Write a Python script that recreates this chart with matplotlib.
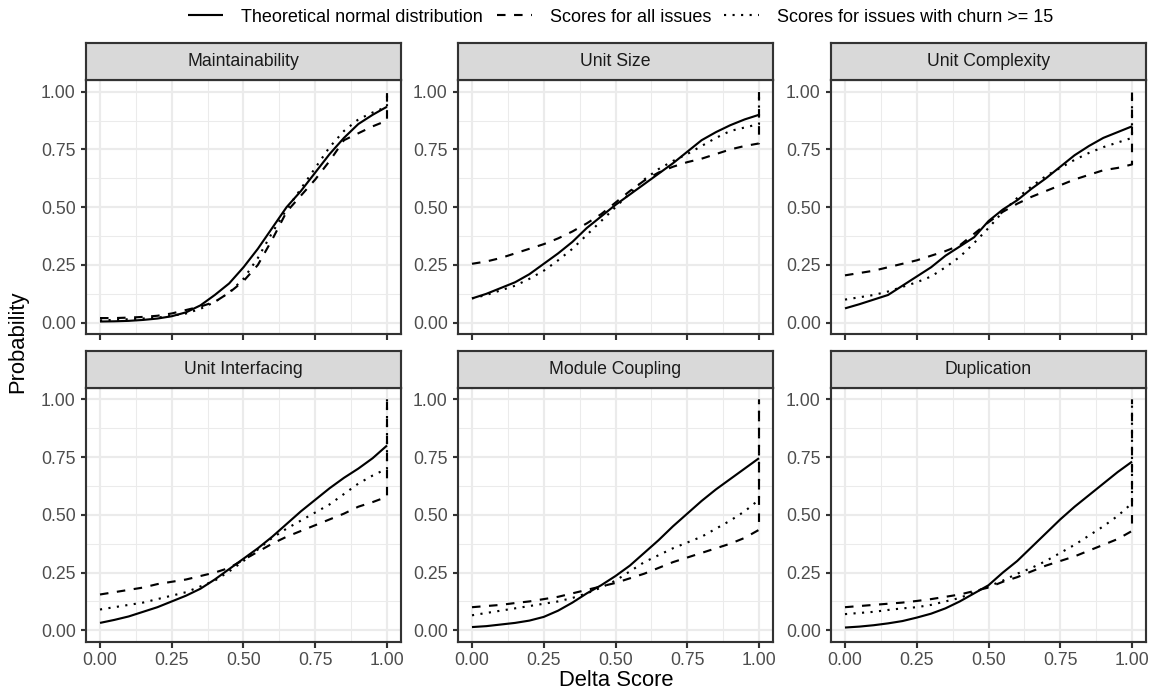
import matplotlib
matplotlib.use("Agg")
import matplotlib.pyplot as plt
from matplotlib.lines import Line2D

plt.rcParams['font.family'] = ['Liberation Sans', 'DejaVu Sans']

# delta score grid (the empirical curves end with the jump to 1 at delta = 1)
delta = [0, 0.05, 0.1, 0.15, 0.2, 0.25, 0.3, 0.35, 0.4, 0.45, 0.5,
         0.55, 0.6, 0.65, 0.7, 0.75, 0.8, 0.85, 0.9, 0.95, 1.0]
delta_ecdf = delta + [1.0]

panels = ["Maintainability", "Unit Size", "Unit Complexity",
          "Unit Interfacing", "Module Coupling", "Duplication"]

legend_labels = ["Theoretical normal distribution", "Scores for all issues",
                 "Scores for issues with churn >= 15"]

# Maintainability
maint_norm = [0.005, 0.006, 0.008, 0.012, 0.018, 0.028, 0.045, 0.075, 0.12, 0.17, 0.24,
              0.32, 0.41, 0.50, 0.57, 0.65, 0.73, 0.80, 0.86, 0.90, 0.935]
maint_all = [0.02, 0.02, 0.022, 0.025, 0.03, 0.04, 0.055, 0.07, 0.09, 0.13, 0.18,
             0.25, 0.36, 0.48, 0.55, 0.62, 0.70, 0.79, 0.82, 0.85, 0.875, 1.0]
maint_churn = [0.01, 0.012, 0.015, 0.018, 0.022, 0.03, 0.04, 0.06, 0.09, 0.13, 0.19,
               0.28, 0.39, 0.49, 0.58, 0.67, 0.76, 0.83, 0.88, 0.91, 0.935, 1.0]

# Unit Size
size_norm = [0.105, 0.125, 0.15, 0.175, 0.21, 0.255, 0.30, 0.35, 0.41, 0.46, 0.51,
             0.555, 0.60, 0.645, 0.69, 0.74, 0.79, 0.825, 0.855, 0.88, 0.90]
size_all = [0.255, 0.265, 0.28, 0.30, 0.32, 0.34, 0.365, 0.395, 0.43, 0.47, 0.52,
            0.57, 0.615, 0.65, 0.675, 0.695, 0.71, 0.73, 0.75, 0.765, 0.776, 1.0]
size_churn = [0.105, 0.12, 0.14, 0.16, 0.19, 0.225, 0.27, 0.32, 0.38, 0.44, 0.50,
              0.56, 0.62, 0.665, 0.70, 0.73, 0.765, 0.80, 0.83, 0.845, 0.86, 1.0]

# Unit Complexity
compl_norm = [0.062, 0.08, 0.10, 0.12, 0.16, 0.20, 0.24, 0.29, 0.33, 0.37, 0.44,
              0.49, 0.53, 0.58, 0.625, 0.675, 0.725, 0.765, 0.80, 0.825, 0.85]
compl_all = [0.205, 0.215, 0.225, 0.24, 0.255, 0.27, 0.29, 0.31, 0.335, 0.385, 0.435,
             0.48, 0.515, 0.545, 0.57, 0.595, 0.62, 0.64, 0.66, 0.67, 0.685, 1.0]
compl_churn = [0.10, 0.11, 0.12, 0.135, 0.155, 0.175, 0.20, 0.24, 0.285, 0.345, 0.41,
               0.48, 0.54, 0.59, 0.635, 0.67, 0.705, 0.735, 0.76, 0.78, 0.80, 1.0]

# Unit Interfacing
intf_norm = [0.032, 0.045, 0.06, 0.08, 0.10, 0.125, 0.15, 0.18, 0.22, 0.265, 0.31,
             0.355, 0.405, 0.46, 0.515, 0.565, 0.615, 0.66, 0.70, 0.745, 0.80]
intf_all = [0.155, 0.165, 0.175, 0.185, 0.20, 0.21, 0.22, 0.235, 0.25, 0.27, 0.305,
            0.34, 0.375, 0.405, 0.43, 0.455, 0.48, 0.505, 0.535, 0.555, 0.578, 1.0]
intf_churn = [0.09, 0.10, 0.11, 0.12, 0.135, 0.15, 0.165, 0.19, 0.215, 0.255, 0.30,
              0.35, 0.40, 0.44, 0.475, 0.51, 0.545, 0.59, 0.635, 0.67, 0.70, 1.0]

# Module Coupling
coup_norm = [0.014, 0.018, 0.025, 0.032, 0.042, 0.058, 0.085, 0.12, 0.16, 0.195, 0.235,
             0.28, 0.335, 0.39, 0.45, 0.505, 0.56, 0.61, 0.655, 0.70, 0.745]
coup_all = [0.10, 0.105, 0.11, 0.118, 0.125, 0.135, 0.145, 0.16, 0.175, 0.19, 0.205,
            0.225, 0.245, 0.27, 0.295, 0.315, 0.335, 0.355, 0.375, 0.40, 0.435, 1.0]
coup_churn = [0.065, 0.075, 0.085, 0.095, 0.105, 0.115, 0.125, 0.14, 0.16, 0.185, 0.215,
              0.255, 0.295, 0.325, 0.355, 0.38, 0.405, 0.44, 0.475, 0.515, 0.565, 1.0]

# Duplication
dup_norm = [0.012, 0.016, 0.022, 0.03, 0.04, 0.055, 0.072, 0.095, 0.125, 0.16, 0.195,
            0.25, 0.30, 0.36, 0.42, 0.48, 0.535, 0.585, 0.635, 0.685, 0.73]
dup_all = [0.10, 0.105, 0.11, 0.115, 0.12, 0.127, 0.135, 0.145, 0.155, 0.17, 0.185,
           0.21, 0.23, 0.255, 0.28, 0.30, 0.32, 0.345, 0.37, 0.395, 0.43, 1.0]
dup_churn = [0.07, 0.075, 0.08, 0.088, 0.095, 0.10, 0.11, 0.125, 0.14, 0.165, 0.19,
             0.215, 0.245, 0.27, 0.30, 0.335, 0.37, 0.41, 0.45, 0.495, 0.55, 1.0]

series = [(maint_norm, maint_all, maint_churn),
          (size_norm, size_all, size_churn),
          (compl_norm, compl_all, compl_churn),
          (intf_norm, intf_all, intf_churn),
          (coup_norm, coup_all, coup_churn),
          (dup_norm, dup_all, dup_churn)]

ticks = [0, 0.25, 0.5, 0.75, 1.0]
tick_labels = ["0.00", "0.25", "0.50", "0.75", "1.00"]
minor = [0.125, 0.375, 0.625, 0.875]

W, H = 1151, 693
DPI = 144
fig = plt.figure(figsize=(W / DPI, H / DPI), dpi=DPI)

lw = 1.066  # ggplot linewidth 0.5
grey20 = "#333333"
styles = [dict(ls="-"), dict(ls=(0, (4, 4))), dict(ls=(0, (1, 3)))]

col_left = [85.65, 457.65, 830.65]
panel_w = 315.7
row_top = [80.15, 387.75]
panel_h = 254.1
strip_h = 37

for i, name in enumerate(panels):
    r, c = divmod(i, 3)
    left = col_left[c]
    top = row_top[r]
    ax = fig.add_axes([left / W, 1 - (top + panel_h) / H, panel_w / W, panel_h / H])
    sax = fig.add_axes([left / W, 1 - top / H, panel_w / W, strip_h / H])

    norm, allv, churn = series[i]
    ax.plot(delta, norm, color="black", lw=lw, solid_capstyle="butt", **styles[0])
    ax.plot(delta_ecdf, allv, color="black", lw=lw, dash_capstyle="butt", **styles[1])
    ax.plot(delta_ecdf, churn, color="black", lw=lw, dash_capstyle="butt", **styles[2])

    ax.set_xlim(-0.05, 1.05)
    ax.set_ylim(-0.05, 1.05)
    ax.set_xticks(ticks)
    ax.set_yticks(ticks)
    ax.set_xticks(minor, minor=True)
    ax.set_yticks(minor, minor=True)
    ax.set_yticklabels(tick_labels)
    if r == 1:
        ax.set_xticklabels(tick_labels)
    else:
        ax.set_xticklabels([])
    ax.tick_params(which="major", length=2.75, width=lw, color=grey20,
                   labelsize=8.8, labelcolor="#4D4D4D", pad=2.2)
    ax.tick_params(which="minor", length=0)
    ax.grid(which="major", color="#EBEBEB", lw=lw)
    ax.grid(which="minor", color="#EBEBEB", lw=lw / 2)
    ax.set_axisbelow(True)
    for sp in ax.spines.values():
        sp.set_color(grey20)
        sp.set_linewidth(lw)

    sax.set_facecolor("#D9D9D9")
    sax.set_xticks([])
    sax.set_yticks([])
    for sp in sax.spines.values():
        sp.set_color(grey20)
        sp.set_linewidth(lw)
    sax.text(0.5, 0.5, name, ha="center", va="center", fontsize=8.8,
             color="#1A1A1A", transform=sax.transAxes)

fig.text(616 / W, 1 - 681 / H, "Delta Score", ha="center", va="center", fontsize=11)
fig.text(18 / W, 1 - 342 / H, "Probability", ha="center", va="center",
         rotation=90, fontsize=11)

handles = [Line2D([], [], color="black", lw=lw, solid_capstyle="butt", **styles[0]),
           Line2D([], [], color="black", lw=lw, dash_capstyle="butt", **styles[1]),
           Line2D([], [], color="black", lw=lw, dash_capstyle="butt", **styles[2])]
fig.legend(handles, legend_labels, loc="center", ncol=3, frameon=False,
           bbox_to_anchor=(621 / W, 1 - 17 / H), fontsize=9,
           handlelength=1.95, handletextpad=1.0, columnspacing=0.74,
           borderpad=0, borderaxespad=0)

fig.savefig("out.png", dpi=DPI)
